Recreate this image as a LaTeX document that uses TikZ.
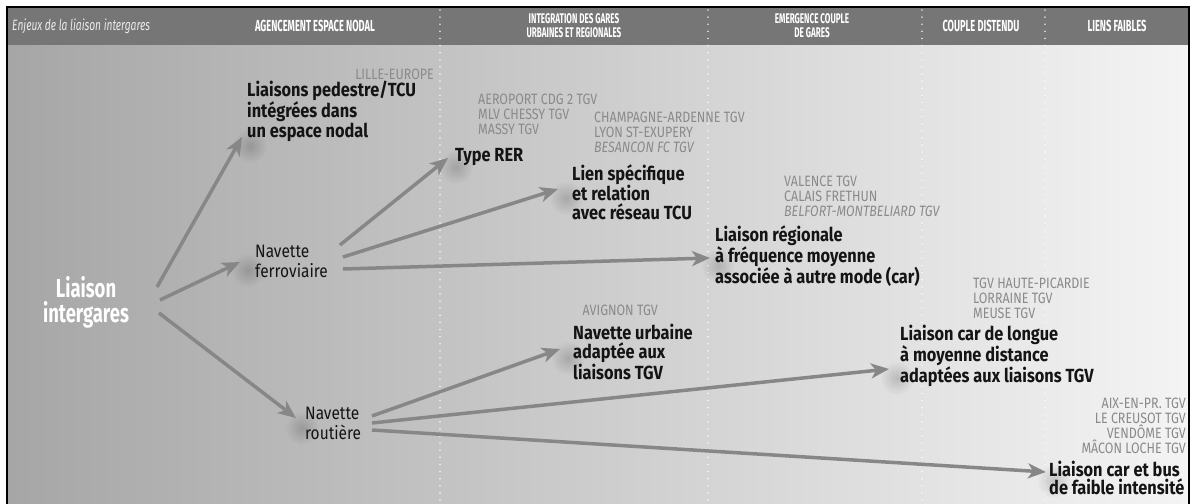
\documentclass[tikz,border=0pt]{standalone}
\usepackage{fontspec}
\setmainfont{Fira Sans}
\newfontfamily\cA[FakeStretch=0.86]{Fira Sans}
\newfontfamily\cL[FakeStretch=0.71]{Fira Sans}
\newfontfamily\cB[FakeStretch=0.83]{Fira Sans}
\newfontfamily\cC[FakeStretch=0.58]{Fira Sans}
\newfontfamily\cE[FakeStretch=0.68]{Fira Sans}
\usetikzlibrary{arrows.meta,fadings}
\tikzfading[name=softdot, inner color=transparent!0, outer color=transparent!100]
\definecolor{hdr}{HTML}{767676}
\definecolor{ink}{HTML}{141414}
\definecolor{stg}{HTML}{8A8A8A}
\definecolor{arrc}{HTML}{878787}
\definecolor{bgl}{HTML}{A6A6A6}
\definecolor{bgr}{HTML}{F4F4F4}
\tikzset{
 big/.style={font=\cA\bfseries\fontsize{19}{18.5}\selectfont, text=ink, align=left, inner sep=0pt, anchor=west},
 stn/.style={font=\cB\fontsize{15}{15}\selectfont, text=stg, inner sep=0pt},
 hd/.style={font=\cC\bfseries\fontsize{16}{13.5}\selectfont, text=white, align=center, inner sep=0pt},
 hdd/.style={font=\cC\bfseries\fontsize{14}{14.5}\selectfont, text=white, align=center, inner sep=0pt},
 nav/.style={font=\cA\fontsize{18}{20}\selectfont, text=ink, align=left, inner sep=0pt, anchor=west},
 arr/.style={draw=arrc, line width=3.5pt, -{Stealth[length=18pt,width=15pt,inset=5pt]}},
 sep/.style={draw=white, draw opacity=0.75, line width=1.6pt, line cap=round, dash pattern=on 0.1pt off 7pt},
 shd/.style={fill=black, fill opacity=0.17, path fading=softdot},
}
\begin{document}
\begin{tikzpicture}[x=1pt,y=-1pt]
\useasboundingbox (0,0) rectangle (1193,503);
\begin{scope}
\clip (7,7) rectangle (1189,503);
\shade[left color=bgl, right color=bgr] (7,45) rectangle (1189,503);
\fill[hdr] (7,7) rectangle (1189,45);
\foreach \x in {440,708,922,1045} \draw[sep] (\x,10) -- (\x,503);

% header
\node[font=\cE\itshape\fontsize{15}{14}\selectfont, text=white!92!black, anchor=west, inner sep=0pt] (h0) at (12,26) {Enjeux de la liaison intergares};
\node[hd] (h1) at (315,26) {AGENCEMENT ESPACE NODAL};
\node[hdd] (h2) at (574,25.5) {INTEGRATION DES GARES\\URBAINES ET REGIONALES};
\node[hdd] (h3) at (812,25.5) {EMERGENCE COUPLE\\DE GARES};
\node[hd] (h4) at (981,26) {COUPLE DISTENDU};
\node[hd] (h5) at (1117,26) {LIENS FAIBLES};

% shadows near arrow tips
\foreach \p in {(250,146),(248,270),(302,428),(456,167),(566,198),(718,266),(568,358),(897,378),(1054,481)}
  \fill[shd] \p circle (17);

% main nodes
\node[font=\cL\bfseries\fontsize{26}{25}\selectfont, text=white, align=center, inner sep=0pt] (li) at (86,302) {Liaison\\intergares};
\node[nav] (nf) at (255,261) {Navette\\ferroviaire};
\node[nav] (nr) at (305,423) {Navette\\routière};

\node[big] (lp) at (247,111) {Liaisons pedestre/TCU\\intégrées dans\\un espace nodal};
\node[stn, anchor=east] (lille) at (434,74) {LILLE-EUROPE};
\node[stn, anchor=west, align=left] (aer) at (478,114) {AEROPORT CDG 2 TGV\\MLV CHESSY TGV\\MASSY TGV};
\node[big] (rer) at (455,157) {Type RER};
\node[stn, anchor=west, align=left] (cha) at (594,132) {CHAMPAGNE-ARDENNE TGV\\LYON ST-EXUPERY\\{\itshape BESANCON FC TGV}};
\node[big] (lst) at (572,192) {Lien spécifique\\et relation\\avec réseau TCU};
\node[stn, anchor=west, align=left] (val) at (784,196) {VALENCE TGV\\CALAIS FRETHUN\\{\itshape BELFORT-MONTBELIARD TGV}};
\node[big] (lreg) at (715,256) {Liaison régionale\\à fréquence moyenne\\associée à autre mode (car)};
\node[stn, anchor=west, align=left] (tgvh) at (973,298) {TGV HAUTE-PICARDIE\\LORRAINE TGV\\MEUSE TGV};
\node[big] (lcar) at (900,356) {Liaison car de longue\\à moyenne distance\\adaptées aux liaisons TGV};
\node[stn, anchor=east] (avi) at (658,310) {AVIGNON TGV};
\node[big] (nu) at (573,352) {Navette urbaine\\adaptée aux\\liaisons TGV};
\node[stn, anchor=east, align=right] (aix) at (1186,426) {AIX-EN-PR. TGV\\LE CREUSOT TGV\\VENDÔME TGV\\MÂCON LOCHE TGV};
\node[big] (lbus) at (1049,478) {Liaison car et bus\\de faible intensité};

% connector ends
\coordinate (s1) at (157,287); \coordinate (e1) at (242,137);
\coordinate (s2) at (160,300); \coordinate (e2) at (240,262);
\coordinate (s3) at (159,313); \coordinate (e3) at (296,418);
\coordinate (s4) at (340,245); \coordinate (e4) at (448,158);
\coordinate (s5) at (343,257); \coordinate (e5) at (558,189);
\coordinate (s6) at (343,269); \coordinate (e6) at (710,258);
\coordinate (s7) at (372,416); \coordinate (e7) at (560,349);
\coordinate (s8) at (372,423); \coordinate (e8) at (889,369);
\coordinate (s9) at (372,430); \coordinate (e9) at (1046,472);
\draw[arr] (s1) -- (e1);
\draw[arr] (s2) -- (e2);
\draw[arr] (s3) -- (e3);
\draw[arr] (s4) -- (e4);
\draw[arr] (s5) -- (e5);
\draw[arr] (s6) -- (e6);
\draw[arr] (s7) -- (e7);
\draw[arr] (s8) -- (e8);
\draw[arr] (s9) -- (e9);
\end{scope}
\draw[line width=2.6pt] (7,510) -- (7,7) -- (1189,7) -- (1189,510);
\end{tikzpicture}
\end{document}
